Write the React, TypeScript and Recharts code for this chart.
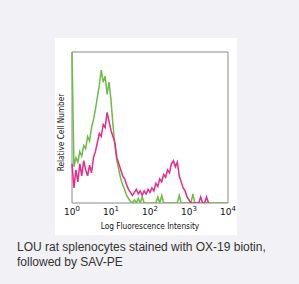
import { Label, Line, LineChart, ReferenceArea, XAxis, YAxis } from "recharts";

// histogram channels, 20 per decade, 10^0 .. 10^4
const channels = Array.from({ length: 81 }, (_, i) => i);

const greenCounts = [
  100, 24, 30, 27, 34, 31, 38, 36, 44, 41,
  50, 55, 62, 70, 78, 88, 80, 84, 72, 80,
  68, 52, 38, 28, 22, 16, 12, 9, 5, 3,
  1, 0, 2, 0, 3, 0, 4, 0, 0, 0,
  0, 0, 0, 0, 4, 0, 5, 0, 0, 0,
  0, 0, 0, 0, 0, 5, 0, 0, 0, 0,
  0, 0, 6, 0, 0, 0, 0, 0, 0, 0,
  0, 0, 0, 0, 0, 0, 0, 0, 0, 0, 0
];

const pinkCounts = [
  26, 10, 22, 14, 26, 18, 28, 22, 18, 25,
  20, 30, 34, 40, 46, 44, 52, 50, 60, 54,
  48, 44, 40, 30, 26, 22, 18, 16, 12, 9,
  7, 5, 7, 9, 6, 8, 5, 8, 6, 9,
  7, 10, 8, 13, 11, 16, 14, 19, 17, 22,
  20, 26, 28, 24, 27, 18, 14, 10, 8, 4,
  2, 0, 0, 0, 0, 0, 4, 0, 0, 4, 0
];

const decadeTicks = [0, 20, 40, 60, 80];
const decadeLabels = ["0", "1", "2", "3", "4"];

const data = channels.map((c, i) => ({
  channel: c,
  green: greenCounts[i],
  pink: i < pinkCounts.length ? pinkCounts[i] : null
}));

const axisFont = "'DejaVu Sans Condensed', 'DejaVu Sans', sans-serif";

const DecadeTick = (props: any) => {
  const { x, y, payload } = props;
  const idx = decadeTicks.indexOf(payload.value);
  return (
    <text x={x} y={y + 4} textAnchor="middle" fontSize={9} fill="#111" fontFamily="'DejaVu Sans', sans-serif">
      <tspan>10</tspan>
      <tspan dy={-4} fontSize={7}>{decadeLabels[idx]}</tspan>
    </text>
  );
};

export default function App() {
  return (
    <div style={{ position: "absolute", left: 0, top: 0, width: 299, height: 284, background: "#f2f1f5", fontFamily: "'Liberation Sans', Arial, sans-serif" }}>
      <div style={{ position: "absolute", left: 55, top: 38, width: 182, height: 197, background: "#ffffff" }}>
        <LineChart width={182} height={197} data={data} margin={{ top: 14, right: 9, left: 0, bottom: 0 }}>
          <XAxis
            dataKey="channel"
            type="number"
            domain={[0, 80]}
            ticks={decadeTicks}
            tickLine={false}
            axisLine={false}
            height={32}
            tick={DecadeTick}
            interval={0}
          >
            <Label
              value="Log Fluorescence Intensity"
              position="insideBottom"
              offset={6}
              fontSize={8.2}
              fill="#111"
              fontFamily={axisFont}
            />
          </XAxis>
          <YAxis
            type="number"
            domain={[0, 100]}
            allowDataOverflow
            width={17}
            tick={false}
            tickLine={false}
            axisLine={false}
          >
            <Label
              content={(p: any) => {
                const vb = p.viewBox || { x: 0, y: 14, width: 17, height: 151 };
                const cx = vb.x + 6;
                const cy = vb.y + vb.height / 2 + 5;
                return (
                  <text
                    x={cx}
                    y={cy}
                    transform={`rotate(-90 ${cx} ${cy})`}
                    textAnchor="middle"
                    dominantBaseline="central"
                    fontSize={8.2}
                    fill="#111"
                    fontFamily={axisFont}
                  >
                    Relative Cell Number
                  </text>
                );
              }}
            />
          </YAxis>
          <ReferenceArea x1={0} x2={80} y1={0} y2={100} fill="none" stroke="#8a8a8a" strokeWidth={1} />
          <Line type="linear" dataKey="green" stroke="#6cbd45" strokeWidth={1.5} dot={false} isAnimationActive={false} />
          <Line type="linear" dataKey="pink" stroke="#e62b8a" strokeWidth={1.5} dot={false} isAnimationActive={false} connectNulls={false} />
        </LineChart>
      </div>
      <div style={{ position: "absolute", left: 17, top: 240, fontSize: 12, lineHeight: "15px", color: "#333" }}>
        LOU rat splenocytes stained with OX-19 biotin,
        <br />
        followed by SAV-PE
      </div>
    </div>
  );
}
